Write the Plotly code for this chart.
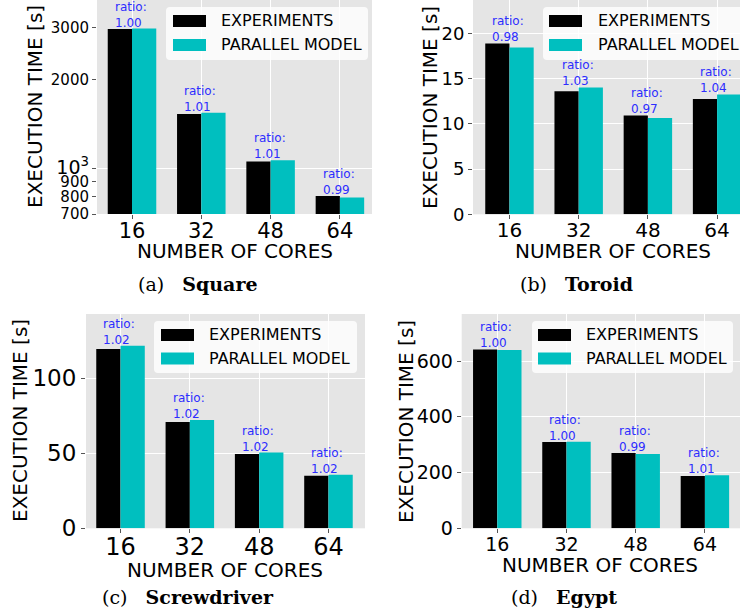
import math
import plotly.graph_objects as go

W, H = 740, 616

# ---- data -------------------------------------------------------------
cores = [16, 32, 48, 64]

square_exp = [2972, 1530, 1055, 805]
square_model = [2984, 1545, 1066, 797]

toroid_exp = [18.9, 13.62, 10.94, 12.74]
toroid_model = [18.45, 14.03, 10.64, 13.26]

screw_exp = [119.5, 70.9, 49.5, 35.0]
screw_model = [121.8, 72.3, 50.5, 35.7]

egypt_exp = [642, 310, 270, 188]
egypt_model = [640, 311, 267, 190]

series_names = ["EXPERIMENTS", "PARALLEL MODEL"]
panel_labels = ["(a)", "(b)", "(c)", "(d)"]
panel_titles = ["Square", "Toroid", "Screwdriver", "Egypt"]

# ---- styling ------------------------------------------------------------
FONT = "DejaVu Sans"
SERIF = "DejaVu Serif"
C_EXP = "#000000"
C_MODEL = "#00BFBF"
BG = "#E5E5E5"
RATIO_COLOR = "rgb(45,45,255)"
BAR_W = 0.35


def px_x(p):
    return p / W


def px_y(p):
    return 1 - p / H


# panel geometry in pixels: plot box, x range, y range, fonts
panels = [
    dict(exp=square_exp, model=square_model, log=True,
         box=(97, 372, 0, 214), xr=(-0.505, 3.463),
         yr=(math.log10(700), 3.5717),
         yticks=[700, 800, 900, 1000, 2000, 3000],
         yticktext=["700", "800", "900",
                    "<span style='font-size:19px'>10<sup>3</sup></span>",
                    "2000", "3000"],
         yfont=15, xfont=21, xstand=-6,
         ytitle=(35, 107), xtitle=(235, 251),
         caption=(198, 284),
         legend=dict(box=(166, 368, 7, 60), sw=(173, 206), rows=(21, 45), tx=219)),
    dict(exp=toroid_exp, model=toroid_model, log=False,
         box=(473, 740, 0, 214.3), xr=(-0.527, 3.331), yr=(0, 23.7),
         yticks=[0, 5, 10, 15, 20], yticktext=None,
         yfont=18, xfont=20, xstand=-6,
         ytitle=(430, 107), xtitle=(613, 251),
         caption=(576, 284),
         legend=dict(box=(543, 760, 7, 60), sw=(549, 582), rows=(21, 45), tx=596)),
    dict(exp=screw_exp, model=screw_model, log=False,
         box=(86, 365, 314, 528.3), xr=(-0.498, 3.527), yr=(0, 142.9),
         yticks=[0, 50, 100], yticktext=None,
         yfont=23, xfont=24, xstand=-7,
         ytitle=(20, 421), xtitle=(225, 570),
         caption=(188, 597),
         legend=dict(box=(154, 357, 321, 373), sw=(161, 194), rows=(335, 358.5), tx=207)),
    dict(exp=egypt_exp, model=egypt_model, log=False,
         box=(461.7, 740, 314, 528.3), xr=(-0.514, 3.507), yr=(0, 769),
         yticks=[0, 200, 400, 600], yticktext=None,
         yfont=19, xfont=19, xstand=-5,
         ytitle=(406, 421), xtitle=(600, 565),
         caption=(563.5, 597),
         legend=dict(box=(532, 733, 321, 373), sw=(538, 571), rows=(335, 358.5), tx=584)),
]

fig = go.Figure()
annotations = []
shapes = []
layout_axes = {}


def rounded_rect(x0, x1, y0, y1, r):
    # pixel coordinates -> paper coordinates path with rounded corners
    rx, ry = r / W, r / H
    X0, X1 = px_x(x0), px_x(x1)
    Y0, Y1 = px_y(y1), px_y(y0)  # bottom, top in paper
    return (f"M {X0+rx},{Y0} L {X1-rx},{Y0} Q {X1},{Y0} {X1},{Y0+ry} "
            f"L {X1},{Y1-ry} Q {X1},{Y1} {X1-rx},{Y1} "
            f"L {X0+rx},{Y1} Q {X0},{Y1} {X0},{Y1-ry} "
            f"L {X0},{Y0+ry} Q {X0},{Y0} {X0+rx},{Y0} Z")


positions = list(range(len(cores)))

for k, p in enumerate(panels):
    sfx = "" if k == 0 else str(k + 1)
    xa, ya = "x" + sfx, "y" + sfx
    x0, x1, y0, y1 = p["box"]

    fig.add_trace(go.Bar(x=positions, y=p["exp"], width=BAR_W, offset=-BAR_W,
                         marker=dict(color=C_EXP, line=dict(width=0)),
                         name=series_names[0], xaxis=xa, yaxis=ya, showlegend=False))
    fig.add_trace(go.Bar(x=positions, y=p["model"], width=BAR_W, offset=0,
                         marker=dict(color=C_MODEL, line=dict(width=0)),
                         name=series_names[1], xaxis=xa, yaxis=ya, showlegend=False))

    layout_axes["xaxis" + sfx] = dict(
        domain=[px_x(x0), min(px_x(x1), 1)], range=list(p["xr"]), anchor=ya,
        tickvals=positions, ticktext=[str(c) for c in cores],
        tickfont=dict(family=FONT, size=p["xfont"], color="black"),
        ticklabelstandoff=p["xstand"],
        ticks="outside", ticklen=4, tickcolor="#555555", tickwidth=1,
        showgrid=True, gridcolor="white", gridwidth=1, zeroline=False,
        showline=False, fixedrange=True, automargin=False)

    yax = dict(
        domain=[px_y(y1), px_y(y0)], range=list(p["yr"]), anchor=xa,
        tickvals=p["yticks"],
        tickfont=dict(family=FONT, size=p["yfont"], color="black"),
        ticks="outside", ticklen=4, tickcolor="#555555", tickwidth=1,
        gridcolor="white", gridwidth=1, zeroline=False, showline=False,
        automargin=False)
    if p["yticktext"] is not None:
        yax["ticktext"] = p["yticktext"]
    if p["log"]:
        yax.update(type="log", showgrid=False,
                   minor=dict(tickvals=[1000], showgrid=True, gridcolor="white",
                              gridwidth=1, ticks=""))
    else:
        yax.update(showgrid=True)
    layout_axes["yaxis" + sfx] = yax

    # ratio labels above each pair of bars
    for i, (e, m) in enumerate(zip(p["exp"], p["model"])):
        top = max(e, m)
        annotations.append(dict(
            x=i - BAR_W + 0.075, y=math.log10(top) if p["log"] else top,
            xref=xa, yref=ya, xanchor="left", yanchor="bottom", yshift=-3,
            text=f"ratio:<br>{m / e:.2f}", showarrow=False, align="left",
            font=dict(family=FONT, size=12, color=RATIO_COLOR)))

    # axis titles
    annotations.append(dict(
        x=px_x(p["xtitle"][0]), y=px_y(p["xtitle"][1]), xref="paper", yref="paper",
        text="NUMBER OF CORES", showarrow=False, xanchor="center", yanchor="middle",
        font=dict(family=FONT, size=20, color="black")))
    annotations.append(dict(
        x=px_x(p["ytitle"][0]), y=px_y(p["ytitle"][1]), xref="paper", yref="paper",
        text="EXECUTION TIME [s]", showarrow=False, textangle=-90,
        xanchor="center", yanchor="middle",
        font=dict(family=FONT, size=20, color="black")))

    # caption
    annotations.append(dict(
        x=px_x(p["caption"][0]), y=px_y(p["caption"][1]), xref="paper", yref="paper",
        text=f"{panel_labels[k]}\u00a0\u00a0 <b>{panel_titles[k]}</b>", showarrow=False,
        xanchor="center", yanchor="middle",
        font=dict(family=SERIF, size=19, color="black")))

    # legend box
    lg = p["legend"]
    bx0, bx1, by0, by1 = lg["box"]
    shapes.append(dict(type="path", xref="paper", yref="paper",
                       path=rounded_rect(bx0, bx1, by0, by1, 4),
                       fillcolor="rgba(255,255,255,0.8)", line=dict(width=0),
                       layer="above"))
    for name, color, ry in zip(series_names, [C_EXP, C_MODEL], lg["rows"]):
        shapes.append(dict(type="rect", xref="paper", yref="paper",
                           x0=px_x(lg["sw"][0]), x1=px_x(lg["sw"][1]),
                           y0=px_y(ry + 6), y1=px_y(ry - 6),
                           fillcolor=color, line=dict(width=0), layer="above"))
        annotations.append(dict(
            x=px_x(lg["tx"]), y=px_y(ry), xref="paper", yref="paper",
            text=name, showarrow=False, xanchor="left", yanchor="middle",
            font=dict(family=FONT, size=16, color="black")))

fig.update_layout(
    width=W, height=H, margin=dict(l=0, r=0, t=0, b=0, autoexpand=False),
    paper_bgcolor="white", plot_bgcolor=BG,
    barmode="overlay", showlegend=False,
    annotations=annotations, shapes=shapes,
    font=dict(family=FONT, color="black"),
    **layout_axes)

fig.write_html("out.html")
